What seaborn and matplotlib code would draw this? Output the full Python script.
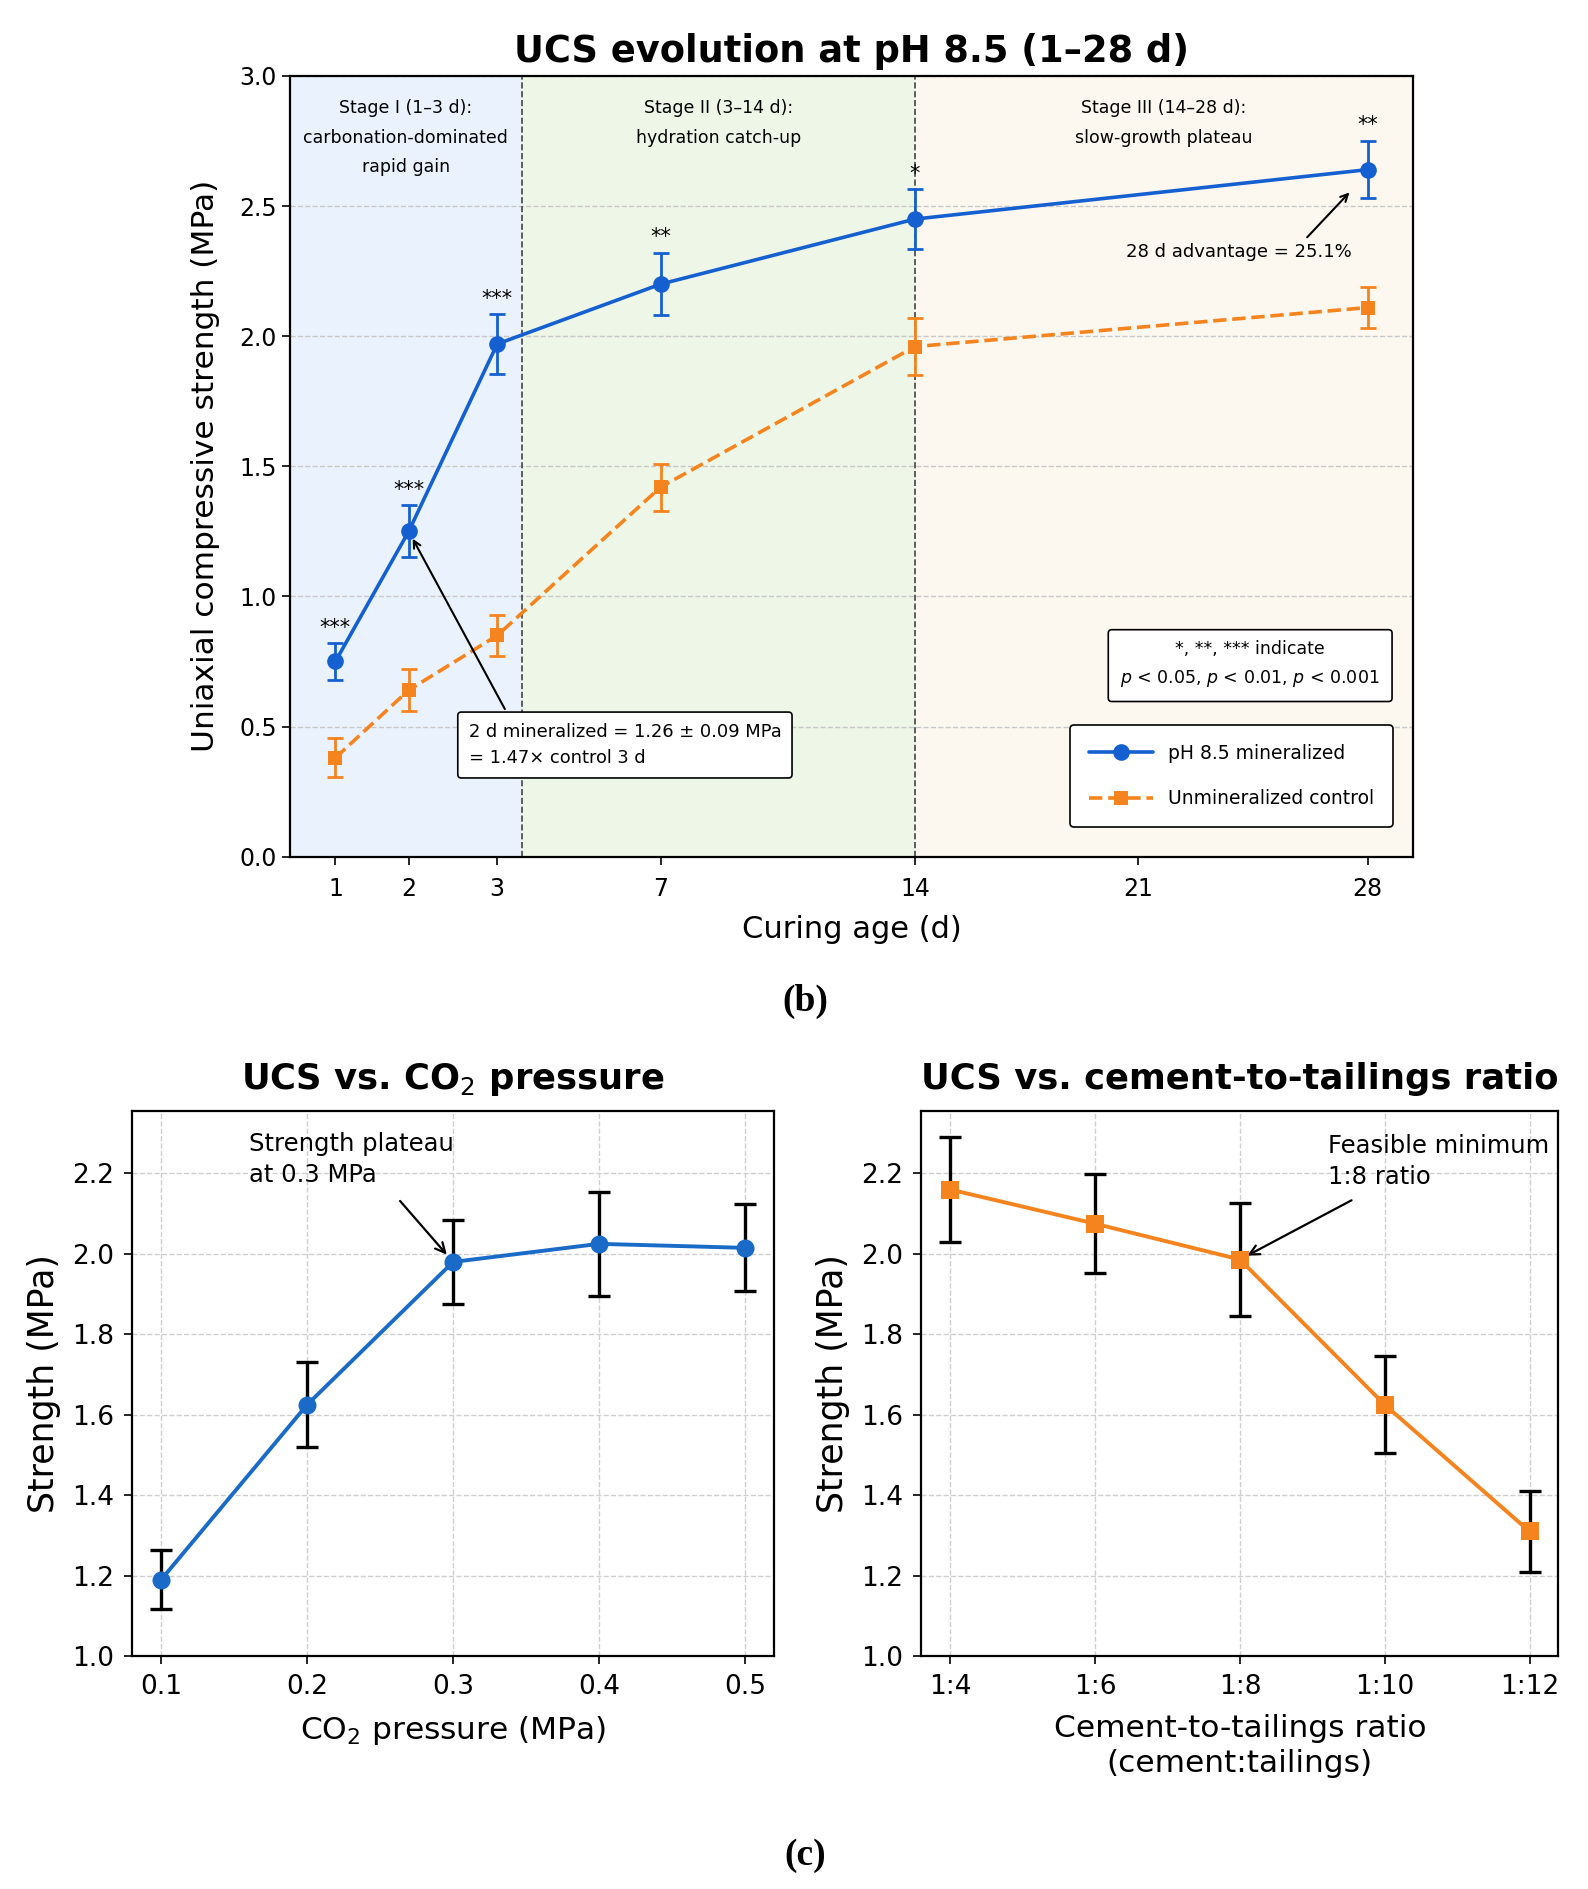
import numpy as np
import pandas as pd
import matplotlib
matplotlib.use('Agg')
import matplotlib.pyplot as plt
import seaborn as sns

# ---- data ----
curing_days = [1, 2, 3, 7, 14, 21, 28]
age_days = [1, 2, 3, 7, 14, 28]
mineralized_ucs = [0.75, 1.25, 1.97, 2.20, 2.45, 2.64]
mineralized_sd = [0.07, 0.10, 0.115, 0.12, 0.115, 0.11]
control_ucs = [0.38, 0.64, 0.85, 1.42, 1.96, 2.11]
control_sd = [0.075, 0.08, 0.08, 0.09, 0.11, 0.08]
significance = ['***', '***', '***', '**', '*', '**']
stage_edges = [3.6, 14]

co2_pressure = [0.1, 0.2, 0.3, 0.4, 0.5]
co2_ucs = [1.19, 1.625, 1.98, 2.025, 2.015]
co2_sd = [0.073, 0.105, 0.105, 0.13, 0.108]

ratio_tailings = [4, 6, 8, 10, 12]
ratio_labels = ['1:4', '1:6', '1:8', '1:10', '1:12']
ratio_ucs = [2.16, 2.075, 1.986, 1.625, 1.31]
ratio_sd = [0.13, 0.123, 0.14, 0.12, 0.10]

BLUE = '#1560d0'
ORANGE = '#f5841f'
BLUE2 = '#1a6bc8'

sns.set_theme(style='ticks')
plt.rcParams['font.family'] = ['DejaVu Sans']
plt.rcParams.update({'text.color': 'black', 'axes.labelcolor': 'black',
                     'xtick.color': 'black', 'ytick.color': 'black'})

fig = plt.figure(figsize=(15.88, 18.89), dpi=100)

# ---------------- (b) top panel ----------------
ax = fig.add_axes([0.1826, 0.5465, 0.7072, 0.4133])

# uneven spacing of the curing-age axis (piecewise linear scale)
scale_days = [0, 1, 2, 3, 7, 14, 21, 28, 40]
scale_pos = [-0.278, 0.455, 1.188, 2.073, 3.707, 6.25, 8.48, 10.778, 14.714]


def fwd(x):
    return np.interp(x, scale_days, scale_pos)


def inv(p):
    return np.interp(p, scale_pos, scale_days)


ax.set_xscale('function', functions=(fwd, inv))
xmin, xmax = 0.38, 29.38

edges = [xmin] + stage_edges + [xmax]
stage_colors = ['#eaf3fd', '#eef7e7', '#fcf7ef']
stage_texts = ['Stage I (1–3 d):\ncarbonation-dominated\nrapid gain',
               'Stage II (3–14 d):\nhydration catch-up',
               'Stage III (14–28 d):\nslow-growth plateau']
for i in range(3):
    ax.axvspan(edges[i], edges[i + 1], color=stage_colors[i], zorder=0, lw=0)
    mid = inv((fwd(edges[i]) + fwd(edges[i + 1])) / 2)
    ax.text(mid, 0.970, stage_texts[i], transform=ax.get_xaxis_transform(),
            ha='center', va='top', fontsize=12.5, linespacing=1.8, zorder=5)
for e in stage_edges:
    ax.axvline(e, color='#444444', ls='--', lw=1.2, zorder=1)

df_top = pd.DataFrame({'day': age_days, 'min': mineralized_ucs, 'ctl': control_ucs})
sns.lineplot(data=df_top, x='day', y='min', ax=ax, color=BLUE, lw=2.6, marker='o',
             markersize=12, markeredgewidth=0, label='pH 8.5 mineralized', zorder=4)
sns.lineplot(data=df_top, x='day', y='ctl', ax=ax, color=ORANGE, lw=2.6, ls='--', marker='s',
             markersize=10.5, markeredgewidth=0, label='Unmineralized control', zorder=4)
ax.errorbar(age_days, mineralized_ucs, yerr=mineralized_sd, fmt='none', ecolor=BLUE,
            elinewidth=2, capsize=6, capthick=2, zorder=4)
ax.errorbar(age_days, control_ucs, yerr=control_sd, fmt='none', ecolor=ORANGE,
            elinewidth=2, capsize=6, capthick=2, zorder=4)
for d, m, s, lab in zip(age_days, mineralized_ucs, mineralized_sd, significance):
    ax.annotate(lab, (d, m + s), xytext=(0, 4), textcoords='offset points',
                ha='center', va='bottom', fontsize=15, zorder=5)

ax.set_xlim(xmin, xmax)
ax.set_ylim(0, 3.0)
ax.set_xticks(curing_days)
ax.set_xticklabels([str(d) for d in curing_days])
ax.set_yticks(np.arange(0, 3.01, 0.5))
ax.yaxis.grid(True, ls='--', color='#c8c8c8', lw=1)
ax.set_axisbelow(True)
ax.tick_params(labelsize=17, length=6, width=1.2)
ax.tick_params(axis='x', pad=9)
ax.set_xlabel('Curing age (d)', fontsize=22, labelpad=10)
ax.set_ylabel('Uniaxial compressive strength (MPa)', fontsize=22.5, labelpad=14)
ax.set_title('UCS evolution at pH 8.5 (1–28 d)', fontsize=26.5, fontweight='bold', pad=10)
for sp in ax.spines.values():
    sp.set_linewidth(1.6)
    sp.set_color('black')

ax.annotate('2 d mineralized = 1.26 ± 0.09 MPa\n= 1.47× control 3 d',
            xy=(age_days[1], mineralized_ucs[1]), xytext=(0.159, 0.143),
            textcoords='axes fraction', ha='left', va='center', fontsize=12.9,
            linespacing=1.6,
            bbox=dict(boxstyle='round,pad=0.6,rounding_size=0.2', fc='white', ec='black', lw=1.2),
            arrowprops=dict(arrowstyle='->', color='black', lw=1.5, relpos=(0.14, 1.0),
                            shrinkB=6), zorder=6)
ax.annotate('28 d advantage = 25.1%', xy=(27.5, 2.56), xytext=(0.845, 0.775),
            textcoords='axes fraction', ha='center', va='center', fontsize=13,
            arrowprops=dict(arrowstyle='->', color='black', lw=1.5, relpos=(0.78, 1.0),
                            shrinkA=2, shrinkB=2), zorder=6)
ax.text(0.855, 0.246, '*, **, *** indicate\n$p$ < 0.05, $p$ < 0.01, $p$ < 0.001',
        transform=ax.transAxes, ha='center', va='center', fontsize=12.5, linespacing=1.7,
        bbox=dict(boxstyle='round,pad=0.7,rounding_size=0.2', fc='white', ec='black', lw=1.2),
        zorder=6)
leg = ax.legend(loc='lower right', bbox_to_anchor=(0.982, 0.038), borderaxespad=0,
                fontsize=13.5, labelspacing=1.4, handlelength=3.4, borderpad=1.0,
                frameon=True, fancybox=True, framealpha=1, edgecolor='black')
leg.get_frame().set_linewidth(1.2)

fig.text(0.507, 0.4696, '(b)', ha='center', va='center', fontsize=27,
         fontweight='bold', family='Liberation Serif')

# ---------------- (c) bottom panels ----------------
ax1 = fig.add_axes([0.0831, 0.1233, 0.4045, 0.2885])
ax2 = fig.add_axes([0.5802, 0.1233, 0.4012, 0.2885])

df_co2 = pd.DataFrame({'p': co2_pressure, 'ucs': co2_ucs})
sns.lineplot(data=df_co2, x='p', y='ucs', ax=ax1, color=BLUE2, lw=2.8, marker='o',
             markersize=13, markeredgewidth=0, zorder=4)
ax1.errorbar(co2_pressure, co2_ucs, yerr=co2_sd, fmt='none', ecolor='black',
             elinewidth=2.4, capsize=8, capthick=2.4, zorder=3)
ax1.set_xticks(co2_pressure)
ax1.set_xticklabels([f'{p:.1f}' for p in co2_pressure])
ax1.set_xlabel('CO$_2$ pressure (MPa)', fontsize=22.5, labelpad=10)
ax1.set_title('UCS vs. CO$_2$ pressure', fontsize=25.5, fontweight='bold', pad=16)
ax1.annotate('Strength plateau\nat 0.3 MPa', xy=(0.3, 1.98), xytext=(0.16, 2.235),
             ha='left', va='center', fontsize=17.5, linespacing=1.4,
             arrowprops=dict(arrowstyle='->', color='black', lw=1.6, relpos=(0.68, 0.0),
                             shrinkA=10, shrinkB=7))

df_ratio = pd.DataFrame({'r': ratio_tailings, 'ucs': ratio_ucs})
sns.lineplot(data=df_ratio, x='r', y='ucs', ax=ax2, color=ORANGE, lw=2.8, marker='s',
             markersize=12.5, markeredgewidth=0, zorder=4)
ax2.errorbar(ratio_tailings, ratio_ucs, yerr=ratio_sd, fmt='none', ecolor='black',
             elinewidth=2.4, capsize=8, capthick=2.4, zorder=3)
ax2.set_xticks(ratio_tailings)
ax2.set_xticklabels(ratio_labels)
ax2.set_xlabel('Cement-to-tailings ratio\n(cement:tailings)', fontsize=22.5, labelpad=10,
               linespacing=1.25)
ax2.set_title('UCS vs. cement-to-tailings ratio', fontsize=25.5, fontweight='bold', pad=16)
ax2.annotate('Feasible minimum\n1:8 ratio', xy=(8, 1.986), xytext=(9.22, 2.23),
             ha='left', va='center', fontsize=17.5, linespacing=1.4,
             arrowprops=dict(arrowstyle='->', color='black', lw=1.6, relpos=(0.2, 0.0),
                             shrinkA=12, shrinkB=6))

for a in (ax1, ax2):
    a.set_ylim(1.0, 2.355)
    a.set_yticks(np.arange(1.0, 2.21, 0.2))
    a.set_yticklabels([f'{v:.1f}' for v in np.arange(1.0, 2.21, 0.2)])
    a.grid(True, ls='--', color='#cfcfcf', lw=1)
    a.set_axisbelow(True)
    a.set_ylabel('Strength (MPa)', fontsize=25, labelpad=8)
    a.tick_params(labelsize=19, length=6, width=1.2, pad=7)
    for sp in a.spines.values():
        sp.set_linewidth(1.6)
        sp.set_color('black')

fig.text(0.507, 0.0175, '(c)', ha='center', va='center', fontsize=27,
         fontweight='bold', family='Liberation Serif')

fig.savefig('out.png', dpi=100, facecolor='white')
